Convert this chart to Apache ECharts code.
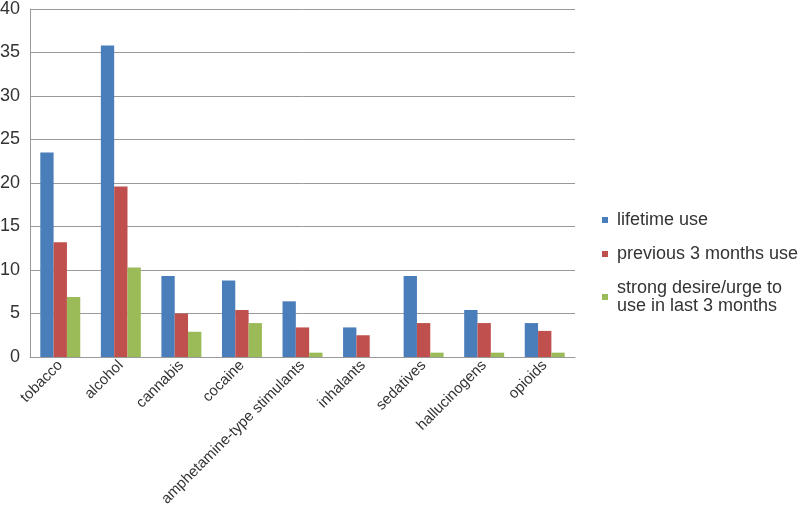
<!DOCTYPE html>
<html><head><meta charset="utf-8">
<script src="https://cdn.jsdelivr.net/npm/echarts@6/dist/echarts.min.js"></script>
<style>html,body{margin:0;padding:0;background:#fff}#c{width:800px;height:507px}</style>
</head><body><div id="c"></div>
<script>
var categories = ['tobacco','alcohol','cannabis','cocaine','amphetamine-type stimulants','inhalants','sedatives','hallucinogens','opioids'];
var seriesNames = ['lifetime use','previous 3 months use','strong desire/urge to use in last 3 months'];
var lifetimeUse = [23.5, 35.8, 9.3, 8.8, 6.4, 3.4, 9.3, 5.4, 3.9];
var previous3Months = [13.2, 19.6, 5.0, 5.4, 3.4, 2.5, 3.9, 3.9, 3.0];
var strongDesire = [6.9, 10.3, 2.9, 3.9, 0.5, 0, 0.5, 0.5, 0.5];
var yTicks = [0, 5, 10, 15, 20, 25, 30, 35, 40];
var colors = ['#4A7EBB', '#C0504D', '#9BBB59'];

var chart = echarts.init(document.getElementById('c'));
var font = 'Liberation Sans, Arial, sans-serif';
chart.setOption({
  animation: false,
  textStyle: {fontFamily: font},
  grid: {left: 30, right: 225, top: 9, bottom: 150, containLabel: false, outerBoundsMode: 'none'},
  legend: {
    orient: 'vertical', left: 597, top: 206,
    itemWidth: 6, itemHeight: 6, itemGap: 16,
    icon: 'rect',
    textStyle: {fontSize: 18, color: '#333', fontFamily: font, lineHeight: 18, padding: [0,0,0,4]},
    formatter: function (n) { return n === seriesNames[2] ? 'strong desire/urge to\nuse in last 3 months' : n; },
    data: [
      {name: seriesNames[0]},
      {name: seriesNames[1]},
      {name: seriesNames[2], textStyle: {verticalAlign: 'top', padding: [-9,0,0,4]}}
    ]
  },
  xAxis: {
    type: 'category', data: categories,
    axisLine: {lineStyle: {color: '#999'}},
    axisTick: {show: false},
    axisLabel: {rotate: 45, fontSize: 15, color: '#333', margin: 6, interval: 0, fontFamily: font}
  },
  yAxis: {
    type: 'value', min: yTicks[0], max: yTicks[yTicks.length-1], interval: 5,
    axisLine: {show: true, lineStyle: {color: '#999'}},
    axisTick: {show: false},
    axisLabel: {fontSize: 18, color: '#333', margin: 10, fontFamily: font},
    splitLine: {lineStyle: {color: '#999'}}
  },
  series: [
    {name: seriesNames[0], type: 'bar', data: lifetimeUse, itemStyle: {color: colors[0]}, barGap: '0%', barCategoryGap: '34%'},
    {name: seriesNames[1], type: 'bar', data: previous3Months, itemStyle: {color: colors[1]}},
    {name: seriesNames[2], type: 'bar', data: strongDesire, itemStyle: {color: colors[2]}}
  ]
});
</script></body></html>
